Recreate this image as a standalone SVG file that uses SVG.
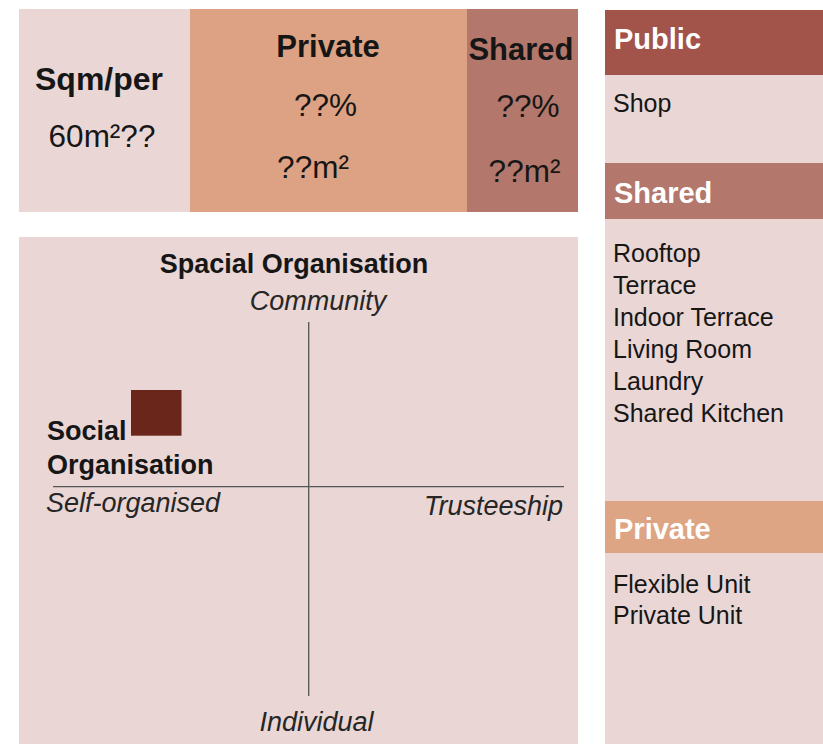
<svg xmlns="http://www.w3.org/2000/svg" width="823" height="744" viewBox="0 0 823 744">
<style>
text{font-family:"Liberation Sans",Arial,sans-serif;fill:#161616}
.b{font-weight:bold}
.big{font-size:31.5px}
.hd{font-size:29px;font-weight:bold;fill:#ffffff}
.lbl{font-size:27px;font-weight:bold}
.it{font-style:italic;font-size:27px;fill:#262626}
.item{font-size:25px}
.ax{stroke:#555;stroke-width:1.3}
</style>
<rect width="823" height="744" fill="#ffffff"/>
<g id="summary">
<rect x="19" y="9" width="171" height="203" fill="#e9d6d5"/>
<rect x="190" y="9" width="277" height="203" fill="#dda283"/>
<rect x="467" y="9" width="111" height="203" fill="#b3776c"/>
<text x="99" y="90" class="b" font-size="32" text-anchor="middle">Sqm/per</text>
<text x="102" y="147" class="big" text-anchor="middle">60m²??</text>
<text x="328" y="57" class="b" font-size="31" text-anchor="middle">Private</text>
<text x="325.5" y="116" class="big" text-anchor="middle">??%</text>
<text x="313" y="178" class="big" text-anchor="middle">??m²</text>
<text x="521" y="60" class="b" font-size="31" text-anchor="middle">Shared</text>
<text x="528" y="117" class="big" text-anchor="middle">??%</text>
<text x="524.5" y="181.5" class="big" text-anchor="middle">??m²</text>
</g>
<g id="chart">
<rect x="19" y="237" width="559" height="507" fill="#e9d6d5"/>
<text x="294" y="272.5" class="lbl" text-anchor="middle">Spacial Organisation</text>
<text x="318" y="310" class="it" text-anchor="middle">Community</text>
<text x="47" y="439.5" class="lbl">Social</text>
<text x="47" y="474" class="lbl">Organisation</text>
<text x="46" y="512" class="it">Self-organised</text>
<text x="563" y="515" class="it" text-anchor="end">Trusteeship</text>
<text x="316.5" y="730.5" class="it" text-anchor="middle">Individual</text>
<rect id="marker-square" x="131" y="390" width="50.5" height="45.7" fill="#6b261c"/>
</g>
<g id="connectors">
<line class="ax" x1="308.7" y1="322" x2="308.7" y2="696"/>
<line class="ax" x1="53" y1="486.7" x2="564" y2="486.7"/>
</g>
<g id="public">
<rect x="605" y="10" width="218" height="65" fill="#a3544a"/>
<rect x="605" y="75" width="218" height="88" fill="#e9d6d5"/>
<text x="614" y="48.5" class="hd">Public</text>
<text x="613" y="111.5" class="item">Shop</text>
</g>
<g id="shared">
<rect x="605" y="163" width="218" height="56" fill="#b3776c"/>
<rect x="605" y="219" width="218" height="282" fill="#e9d6d5"/>
<text x="614" y="203" class="hd">Shared</text>
<text x="613" y="261.5" class="item">Rooftop</text>
<text x="613" y="293.5" class="item">Terrace</text>
<text x="613" y="326" class="item">Indoor Terrace</text>
<text x="613" y="358" class="item">Living Room</text>
<text x="613" y="390" class="item">Laundry</text>
<text x="613" y="422" class="item">Shared Kitchen</text>
</g>
<g id="private">
<rect x="605" y="501" width="218" height="52" fill="#dea584"/>
<rect x="605" y="553" width="218" height="191" fill="#e9d6d5"/>
<text x="614" y="539" class="hd">Private</text>
<text x="613" y="592.5" class="item">Flexible Unit</text>
<text x="613" y="624" class="item">Private Unit</text>
</g>
</svg>
